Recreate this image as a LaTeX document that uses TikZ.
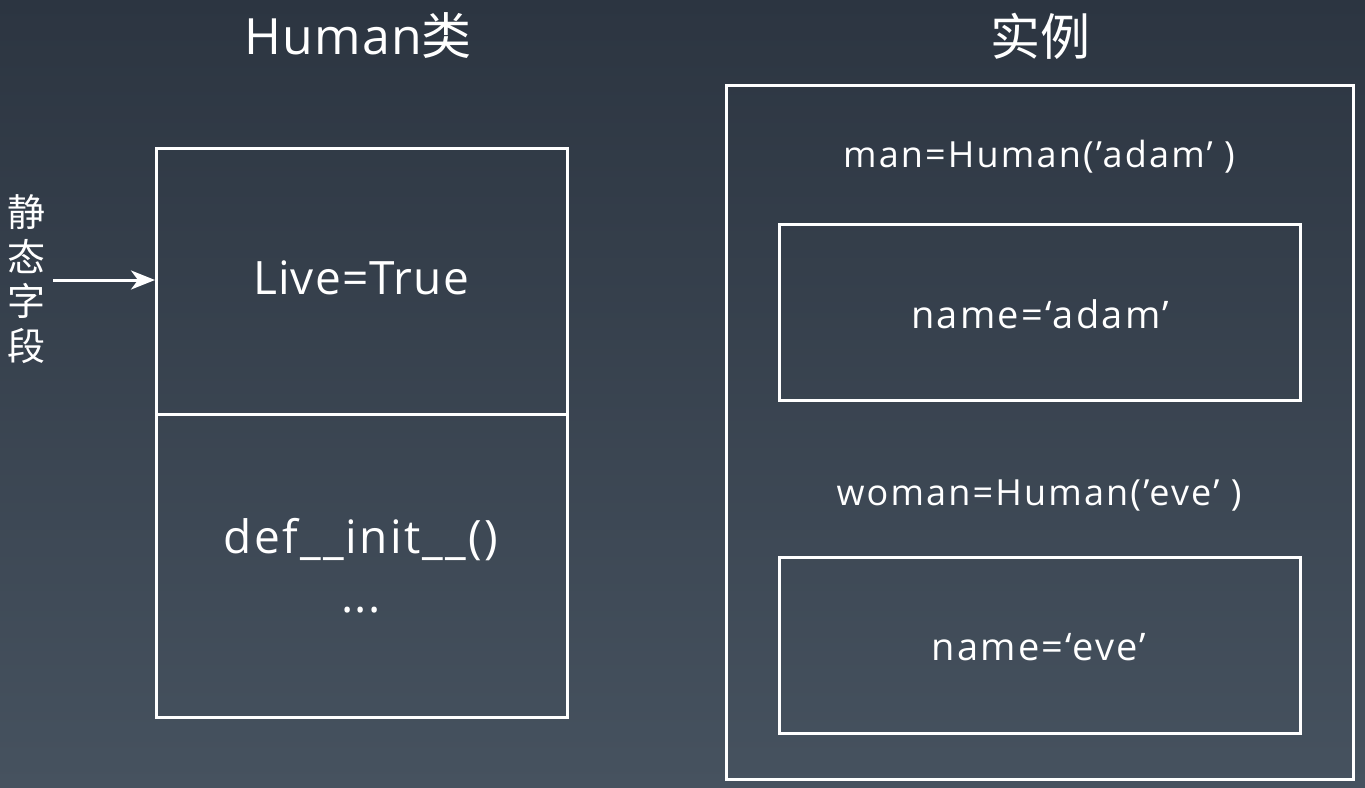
\documentclass[tikz,border=0pt]{standalone}
\usepackage{fontspec}
\setmainfont{Open Sans}
\newfontfamily\cjk{Noto Sans CJK SC}
\newfontfamily\wideA[LetterSpace=6]{Open Sans}
\newfontfamily\wideB[LetterSpace=2.5]{Open Sans}
\newfontfamily\wideC[LetterSpace=5]{Open Sans}
\usetikzlibrary{arrows.meta}
\definecolor{bgtop}{HTML}{2C3541}
\definecolor{bgbot}{HTML}{46525F}
\tikzset{
  box/.style={draw=white, line width=3pt},
  lbl/.style={text=white, inner sep=0pt, anchor=center},
}
\begin{document}
\begin{tikzpicture}[x=1pt,y=-1pt]
\shade[top color=bgtop, bottom color=bgbot] (0,0) rectangle (1365,787);
\useasboundingbox (0,0) rectangle (1365,787);
% class box
\draw[box] (156,148) rectangle (567,717);
\draw[box] (156,414) -- (567,414);
\coordinate (clsTopL) at (155,280);
% right outer
\draw[box] (726,85) rectangle (1353,779);
\draw[box] (779,224) rectangle (1300,400);
\draw[box] (779,557) rectangle (1300,733);
% titles
\node[lbl, font=\fontsize{50}{56}\wideB] (t1) at (358,36) {Human{\cjk 类}};
\node[lbl, font=\fontsize{50}{56}\selectfont\cjk] (t2) at (1040,36) {实例};
% texts
\node[lbl, font=\fontsize{46}{52}\wideB] (live) at (361,278) {Live=True};
\node[lbl, font=\fontsize{46}{52}\wideC] (init) at (361,540) {def\_\_init\_\_()};
\node[lbl, font=\fontsize{46}{52}\wideB] (dots) at (361,610) {...};
\node[lbl, font=\fontsize{36}{40}\wideA] (man) at (1039,157) {man=Human(’adam’ )};
\node[lbl, font=\fontsize{36}{40}\wideA] (woman) at (1039,495) {woman=Human(’eve’ )};
\node[lbl, font=\fontsize{38}{40}\wideA] (n1) at (1040,314) {name=‘adam’};
\node[lbl, font=\fontsize{38}{40}\wideA] (n2) at (1039,647) {name=‘eve’};
% vertical label
\node[lbl, font=\fontsize{38}{44.5}\selectfont\cjk, align=center] (vl) at (26,279) {静\\态\\字\\段};
\coordinate (arrS) at (53,280);
\draw[white, line width=3pt, -{Stealth[length=24pt,width=19pt,inset=7pt]}] (arrS) -- (clsTopL);
\end{tikzpicture}
\end{document}
